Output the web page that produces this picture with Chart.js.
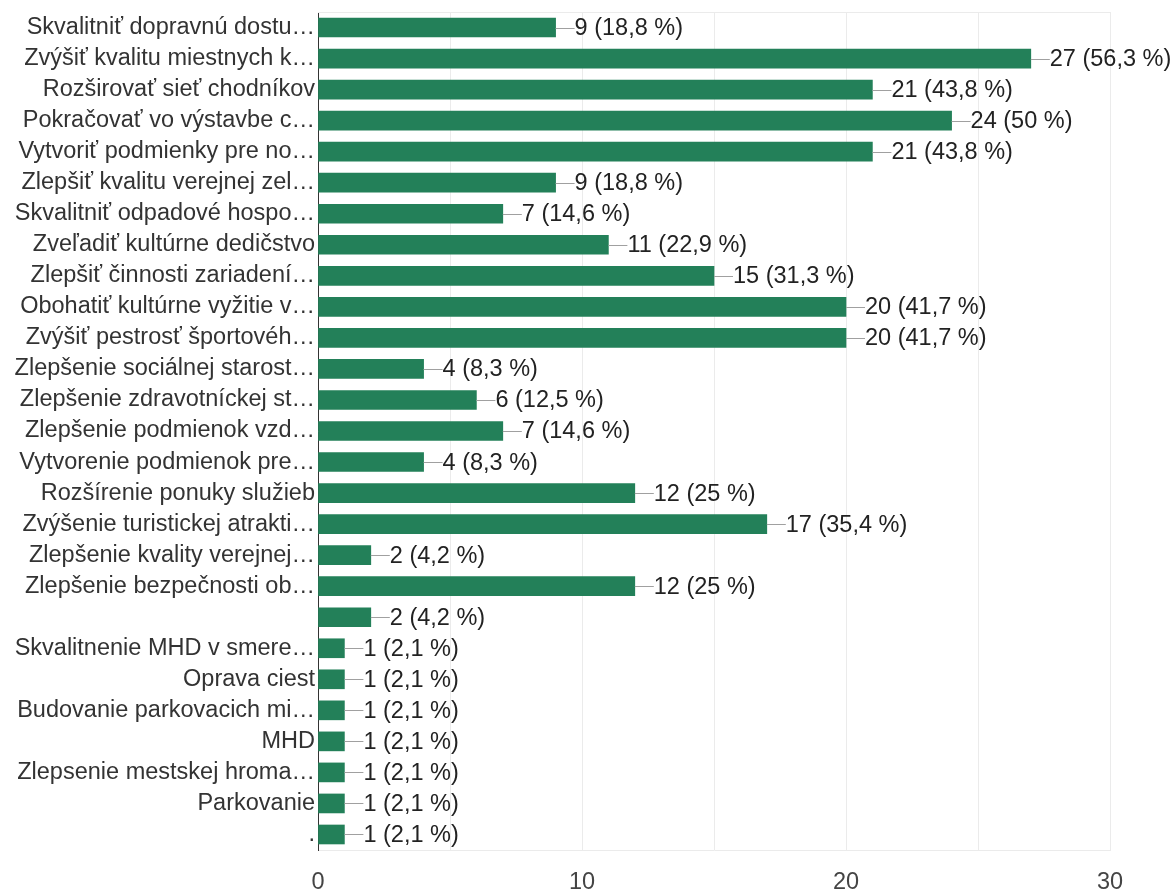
<!DOCTYPE html>
<html lang="sk">
<head>
<meta charset="utf-8">
<title>Odpovede</title>
<script src="https://cdn.jsdelivr.net/npm/chart.js@4.4.1/dist/chart.umd.min.js"></script>
<style>
  html, body { margin: 0; padding: 0; background: #fff; }
  #wrap { width: 1176px; height: 891px; }
</style>
</head>
<body>
<div id="wrap"><canvas id="chart-answers" width="1176" height="891"></canvas></div>
<script>
'use strict';

// --- data ---
const categories = [
  'Skvalitniť dopravnú dostu…',
  'Zvýšiť kvalitu miestnych k…',
  'Rozširovať sieť chodníkov',
  'Pokračovať vo výstavbe c…',
  'Vytvoriť podmienky pre no…',
  'Zlepšiť kvalitu verejnej zel…',
  'Skvalitniť odpadové hospo…',
  'Zveľadiť kultúrne dedičstvo',
  'Zlepšiť činnosti zariadení…',
  'Obohatiť kultúrne vyžitie v…',
  'Zvýšiť pestrosť športovéh…',
  'Zlepšenie sociálnej starost…',
  'Zlepšenie zdravotníckej st…',
  'Zlepšenie podmienok vzd…',
  'Vytvorenie podmienok pre…',
  'Rozšírenie ponuky služieb',
  'Zvýšenie turistickej atrakti…',
  'Zlepšenie kvality verejnej…',
  'Zlepšenie bezpečnosti ob…',
  '',
  'Skvalitnenie MHD v smere…',
  'Oprava ciest',
  'Budovanie parkovacich mi…',
  'MHD',
  'Zlepsenie mestskej hroma…',
  'Parkovanie',
  '.'
];

const counts = [9, 27, 21, 24, 21, 9, 7, 11, 15, 20, 20, 4, 6, 7, 4, 12, 17, 2, 12, 2, 1, 1, 1, 1, 1, 1, 1];

const percents = [
  '18,8', '56,3', '43,8', '50', '43,8', '18,8', '14,6', '22,9', '31,3', '41,7',
  '41,7', '8,3', '12,5', '14,6', '8,3', '25', '35,4', '4,2', '25', '4,2',
  '2,1', '2,1', '2,1', '2,1', '2,1', '2,1', '2,1'
];

const xMin = 0;
const xMax = 30;
const xGridStep = 5;
const xLabelStep = 10;

// --- look ---
const FONT = "'Liberation Sans', Arial, sans-serif";
const FONT_SIZE = 23.5;
const BAR_COLOR = '#238059';
const GRID_COLOR = '#ebebeb';
const LEADER = 19;

/* value labels with a short leader line after each bar */
const valueLabels = {
  id: 'valueLabels',
  afterDatasetsDraw(chart) {
    const ctx = chart.ctx;
    const meta = chart.getDatasetMeta(0);
    ctx.save();
    ctx.font = FONT_SIZE + 'px ' + FONT;
    ctx.textBaseline = 'middle';
    ctx.textAlign = 'left';
    meta.data.forEach((bar, i) => {
      const x = bar.x;
      const y = Math.round(bar.y) + 0.5;
      ctx.strokeStyle = '#a0a0a0';
      ctx.lineWidth = 1;
      ctx.beginPath();
      ctx.moveTo(x, y);
      ctx.lineTo(x + LEADER, y);
      ctx.stroke();
      ctx.fillStyle = '#222';
      ctx.fillText(counts[i] + ' (' + percents[i] + ' %)', x + LEADER, bar.y + 1);
    });
    ctx.restore();
  }
};

/* thin frame line along the top of the plot */
const topFrame = {
  id: 'topFrame',
  beforeDatasetsDraw(chart) {
    const { ctx, chartArea } = chart;
    ctx.save();
    ctx.strokeStyle = GRID_COLOR;
    ctx.lineWidth = 1;
    ctx.beginPath();
    ctx.moveTo(chartArea.left, Math.round(chartArea.top) + 0.5);
    ctx.lineTo(chartArea.right, Math.round(chartArea.top) + 0.5);
    ctx.stroke();
    ctx.restore();
  }
};

function initAnswersChart() {
  const canvas = document.getElementById('chart-answers');
  const ctx = canvas.getContext('2d');

  return new Chart(ctx, {
    type: 'bar',
    data: {
      labels: categories,
      datasets: [{
        data: counts,
        backgroundColor: BAR_COLOR,
        borderWidth: 0,
        barThickness: 19
      }]
    },
    options: {
      indexAxis: 'y',
      responsive: false,
      animation: false,
      layout: { padding: { top: 12, right: 66, left: 0, bottom: 0 } },
      plugins: {
        legend: { display: false },
        tooltip: { enabled: false }
      },
      scales: {
        x: {
          min: xMin,
          max: xMax,
          grid: {
            color: c => (c.tick && c.tick.value === 0) ? 'rgba(0,0,0,0)' : GRID_COLOR,
            drawTicks: false
          },
          border: { color: GRID_COLOR },
          ticks: {
            stepSize: xGridStep,
            autoSkip: false,
            maxRotation: 0,
            padding: 18,
            color: '#444',
            font: { family: FONT, size: FONT_SIZE },
            callback: v => (v % xLabelStep === 0 ? v : '')
          },
          afterFit: s => { s.height = 41; }
        },
        y: {
          grid: { display: false, drawTicks: false },
          border: { display: true, color: '#333', width: 1 },
          ticks: {
            autoSkip: false,
            padding: 3,
            color: '#333',
            font: { family: FONT, size: FONT_SIZE, lineHeight: 0.9 }
          },
          afterFit: s => {
            s.width = 318;
            s.paddingTop = 0;
            s.paddingBottom = 0;
          }
        }
      }
    },
    plugins: [topFrame, valueLabels]
  });
}

initAnswersChart();
</script>
</body>
</html>
